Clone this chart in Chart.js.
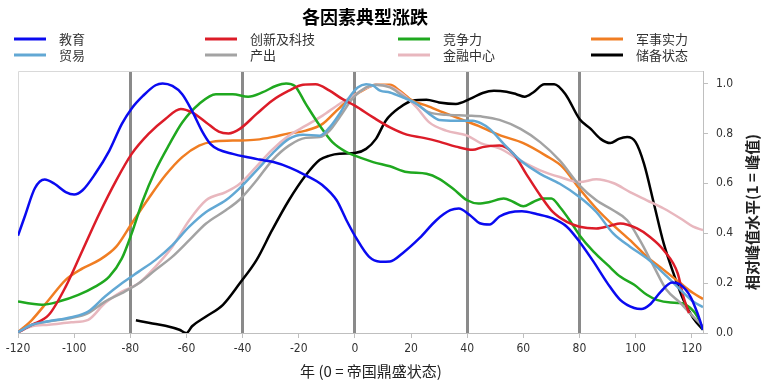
<!DOCTYPE html>
<html>
<head>
<meta charset="utf-8">
<script src="https://cdn.jsdelivr.net/npm/chart.js@4.4.0/dist/chart.umd.min.js"></script>
<style>
    html, body { margin: 0; padding: 0; background: #fff; }
    #wrap { width: 764px; height: 391px; }
</style>
</head>
<body>
<div id="wrap"><canvas id="chart"></canvas></div>
<script>
// tick labels
const xTicks = [-120, -100, -80, -60, -40, -20, 0, 20, 40, 60, 80, 100, 120];
const yTicks = [0, 0.2, 0.4, 0.6, 0.8, 1.0];
const markerYears = [-80, -40, 0, 40, 80];

// series, [year, relative level]
const education = [[-120,0.39],[-117.5,0.47],[-114,0.58],[-110.5,0.615],[-107,0.598],[-103,0.565],[-100,0.555],[-97,0.572],[-92.5,0.638],[-87.5,0.73],[-83,0.838],[-79.5,0.9],[-75.5,0.95],[-71,0.993],[-68.5,1.0],[-65,0.99],[-61.5,0.957],[-58,0.89],[-54.5,0.81],[-51.5,0.758],[-48.5,0.735],[-43.5,0.718],[-39,0.706],[-34,0.695],[-29,0.685],[-23,0.662],[-17.5,0.632],[-11.5,0.592],[-6.5,0.532],[-3,0.452],[0.5,0.38],[5,0.306],[9,0.286],[12.5,0.287],[17,0.32],[23,0.38],[29,0.452],[34,0.492],[37,0.499],[41,0.472],[44.5,0.44],[48,0.435],[51.5,0.467],[55,0.483],[59.5,0.488],[65,0.476],[70.5,0.459],[75.5,0.426],[80,0.366],[85,0.286],[90,0.199],[94.5,0.133],[99.5,0.1],[102,0.096],[105,0.113],[109,0.166],[113,0.202],[116,0.193],[119.5,0.146],[122,0.08],[124,0.013]];
const trade = [[-120,0.003],[-115,0.033],[-109,0.047],[-101,0.063],[-95,0.086],[-89,0.146],[-83,0.199],[-77,0.246],[-71,0.293],[-65,0.352],[-59,0.426],[-53,0.485],[-46,0.532],[-41,0.581],[-35,0.652],[-29.5,0.718],[-23.5,0.778],[-18.5,0.795],[-12.5,0.791],[-9,0.824],[-5.5,0.878],[-2,0.944],[1,0.984],[4,0.997],[6.5,0.991],[9,0.971],[12.5,0.964],[17,0.944],[22,0.918],[26.5,0.878],[30,0.854],[36,0.851],[42,0.851],[45,0.84],[48,0.818],[53,0.758],[59,0.691],[66,0.638],[73,0.598],[80,0.545],[86,0.485],[92,0.399],[98,0.346],[104,0.299],[110,0.239],[116,0.173],[120.5,0.126],[124,0.104]];
const innovation = [[-120,0.003],[-115,0.033],[-109,0.073],[-103,0.186],[-97,0.332],[-91,0.479],[-85,0.612],[-79.5,0.718],[-73.5,0.798],[-67.5,0.858],[-62,0.898],[-58,0.884],[-53,0.844],[-48.5,0.807],[-45,0.8],[-41,0.818],[-35,0.878],[-29.5,0.931],[-23.5,0.971],[-18.5,0.995],[-14,0.997],[-9,0.971],[-4.5,0.938],[0,0.911],[6.5,0.864],[12.5,0.824],[18.5,0.795],[24.5,0.782],[30,0.767],[36,0.747],[42,0.734],[45.5,0.745],[51.5,0.751],[56.5,0.718],[61,0.638],[66,0.552],[70.5,0.485],[75.5,0.445],[80,0.426],[86,0.419],[91,0.43],[94.5,0.439],[100.5,0.419],[105,0.386],[110,0.332],[115,0.239],[117,0.146],[119,0.08]];
const output = [[-120,0.003],[-115,0.033],[-109,0.047],[-101,0.06],[-95,0.08],[-89,0.126],[-83,0.16],[-77,0.199],[-71,0.253],[-65,0.306],[-59,0.372],[-53,0.439],[-46,0.492],[-41,0.535],[-35,0.612],[-29.5,0.691],[-23.5,0.751],[-17.5,0.782],[-12.5,0.785],[-9,0.811],[-5.5,0.864],[-0.5,0.944],[4,0.984],[7.5,0.995],[12.5,0.984],[17,0.951],[22,0.918],[26.5,0.884],[32.5,0.875],[40,0.871],[45.5,0.867],[51.5,0.854],[59,0.818],[66,0.765],[73,0.691],[80,0.592],[86,0.532],[92,0.492],[97,0.452],[101.5,0.372],[106.5,0.266],[111,0.173],[116,0.12],[120.5,0.066],[124,0.027]];
const competitiveness = [[-120,0.126],[-115,0.117],[-111.5,0.113],[-105.5,0.126],[-98.5,0.153],[-92.5,0.186],[-87.5,0.226],[-83,0.299],[-79.5,0.399],[-75.5,0.532],[-71,0.652],[-66,0.758],[-61.5,0.844],[-55.5,0.918],[-49.5,0.957],[-43.5,0.957],[-38,0.947],[-33,0.964],[-28,0.991],[-24.5,1.0],[-21.5,0.991],[-17.5,0.918],[-12.5,0.831],[-8,0.765],[-3,0.725],[0,0.711],[6.5,0.685],[12.5,0.668],[18.5,0.645],[25.5,0.638],[30,0.618],[35,0.578],[40,0.532],[44,0.519],[48,0.525],[53,0.539],[56.5,0.525],[60,0.508],[63.5,0.525],[67,0.539],[70,0.539],[73,0.505],[76.5,0.452],[80,0.392],[85,0.326],[90,0.273],[94.5,0.226],[99.5,0.193],[104,0.153],[107.5,0.133],[112.5,0.122],[116,0.12],[119.5,0.1],[122,0.066],[124,0.013]];
const finance = [[-120,0.003],[-115,0.027],[-109,0.033],[-101,0.043],[-95,0.053],[-89,0.12],[-83,0.166],[-77,0.199],[-71,0.266],[-65,0.346],[-59,0.452],[-53,0.532],[-46,0.565],[-41,0.598],[-35,0.668],[-29.5,0.734],[-23.5,0.791],[-17.5,0.831],[-11.5,0.871],[-5.5,0.918],[-0.5,0.951],[4,0.981],[7.5,0.995],[12.5,0.987],[17,0.957],[22,0.904],[26.5,0.844],[32.5,0.811],[40,0.791],[45,0.76],[51.5,0.74],[59,0.691],[66,0.652],[73,0.625],[80,0.605],[86,0.616],[92,0.601],[98,0.565],[104,0.532],[110,0.499],[116,0.459],[120.5,0.426],[124,0.412]];
const military = [[-120,0.003],[-115,0.053],[-109,0.133],[-103,0.213],[-97,0.259],[-91,0.293],[-85,0.346],[-79.5,0.439],[-73.5,0.539],[-67.5,0.632],[-61.5,0.705],[-55.5,0.751],[-50.5,0.767],[-43.5,0.771],[-35,0.775],[-29.5,0.785],[-23.5,0.8],[-17.5,0.811],[-11.5,0.838],[-6.5,0.891],[-2,0.938],[3,0.973],[7.5,0.995],[12.5,0.995],[16,0.971],[20.5,0.931],[25.5,0.911],[31.5,0.884],[37.5,0.858],[44,0.83],[49,0.805],[52,0.791],[60,0.761],[68,0.711],[74,0.665],[80,0.578],[86,0.499],[92,0.432],[98,0.372],[104,0.306],[110,0.253],[116,0.199],[120.5,0.16],[124,0.136]];
const reserve = [[-78,0.051],[-73,0.04],[-67.5,0.029],[-62.5,0.013],[-60,0.0],[-58,0.027],[-53,0.066],[-47,0.113],[-41,0.199],[-35,0.293],[-29.5,0.412],[-23.5,0.532],[-17.5,0.632],[-12.5,0.694],[-9,0.711],[-5.5,0.718],[0,0.721],[4,0.738],[7.5,0.778],[11,0.851],[16,0.904],[20.5,0.931],[25.5,0.935],[30,0.924],[36,0.918],[41,0.938],[45.5,0.962],[49.5,0.971],[54,0.967],[57.5,0.957],[60.5,0.947],[63.5,0.964],[67.5,0.997],[71,0.997],[75,0.957],[80,0.858],[84,0.818],[87.5,0.778],[91,0.761],[94,0.778],[97,0.785],[100,0.765],[103,0.678],[106.5,0.519],[110,0.359],[113.5,0.239],[117,0.133],[120.5,0.06],[124,0.013]];

const cjk = '"Noto Sans CJK SC", sans-serif';
const numFont = '"Liberation Sans Narrow", "DejaVu Sans Condensed", sans-serif';

const line = (label, pts, color) => ({
    label: label,
    data: pts.map(([x, y]) => ({ x: x, y: y })),
    borderColor: color,
    backgroundColor: color,
    borderWidth: 2.5,
    pointRadius: 0,
    cubicInterpolationMode: 'monotone',
    fill: false
});

// legend goes column by column, two rows
const decor = {
    id: 'decor',
    beforeDatasetsDraw(chart) {
        const { ctx, chartArea: a } = chart;
        ctx.save();
        ctx.strokeStyle = '#d9d9d9';
        ctx.lineWidth = 1;
        ctx.beginPath();
        ctx.moveTo(a.left + 0.5, a.bottom);
        ctx.lineTo(a.left + 0.5, a.top + 0.5);
        ctx.lineTo(a.right, a.top + 0.5);
        ctx.stroke();
        ctx.restore();
    },
    afterDraw(chart) {
        const ctx = chart.ctx;
        ctx.save();
        ctx.fillStyle = '#000';
        ctx.textAlign = 'center';
        ctx.textBaseline = 'middle';
        ctx.font = 'bold 18px ' + cjk;
        ctx.fillText('各因素典型涨跌', 365, 17);

        const colX = [14, 205, 398, 591];
        const rowY = [39, 55];
        ctx.font = '13px ' + cjk;
        ctx.textAlign = 'left';
        chart.data.datasets.forEach((ds, i) => {
            const x = colX[Math.floor(i / 2)];
            const y = rowY[i % 2];
            ctx.strokeStyle = ds.borderColor;
            ctx.lineWidth = 3;
            ctx.beginPath();
            ctx.moveTo(x, y);
            ctx.lineTo(x + 32, y);
            ctx.stroke();
            ctx.fillStyle = '#333';
            ctx.fillText(ds.label, x + 45, y);
        });

        ctx.fillStyle = '#222';
        ctx.textAlign = 'center';
        ctx.font = '15px ' + cjk;
        ctx.fillText('年 (0 = 帝国鼎盛状态)', 371, 371);

        ctx.translate(752, 212);
        ctx.rotate(-Math.PI / 2);
        ctx.font = 'bold 15px ' + cjk;
        ctx.fillText('相对峰值水平(1 = 峰值)', 0, 0);
        ctx.restore();
    }
};

new Chart(document.getElementById('chart'), {
    type: 'line',
    data: {
        datasets: [
            line('教育', education, '#0a0af0'),
            line('贸易', trade, '#62a8d4'),
            line('创新及科技', innovation, '#dc1c28'),
            line('产出', output, '#a3a3a3'),
            line('竞争力', competitiveness, '#1fa81f'),
            line('金融中心', finance, '#e8b7be'),
            line('军事实力', military, '#f07d22'),
            line('储备状态', reserve, '#000000')
        ]
    },
    plugins: [decor],
    options: {
        responsive: true,
        maintainAspectRatio: false,
        animation: false,
        layout: { padding: { left: 18, top: 71, right: 0, bottom: 0 } },
        plugins: {
            legend: { display: false },
            title: { display: false },
            tooltip: { enabled: false }
        },
        scales: {
            x: {
                type: 'linear',
                min: -120,
                max: 124,
                afterBuildTicks: s => { s.ticks = xTicks.map(v => ({ value: v })); },
                afterFit: s => { s.height = 58; },
                grid: {
                    color: c => markerYears.includes(c.tick && c.tick.value) ? '#8a8a8a' : 'transparent',
                    lineWidth: c => markerYears.includes(c.tick && c.tick.value) ? 3 : 1,
                    tickColor: '#bfbfbf',
                    tickWidth: 1,
                    tickLength: 5
                },
                border: { color: '#bfbfbf', width: 1 },
                ticks: {
                    autoSkip: false,
                    maxRotation: 0,
                    padding: 4,
                    color: '#333',
                    font: { family: numFont, size: 12 }
                }
            },
            y: {
                position: 'right',
                min: 0,
                max: 1.05,
                afterBuildTicks: s => { s.ticks = yTicks.map(v => ({ value: v })); },
                afterFit: s => { s.width = 61; },
                grid: {
                    drawOnChartArea: false,
                    color: '#bfbfbf',
                    tickLength: 5
                },
                border: { color: '#bfbfbf', width: 1 },
                ticks: {
                    padding: 8,
                    color: '#333',
                    font: { family: numFont, size: 12 },
                    callback: v => v.toFixed(1)
                }
            }
        }
    }
});
</script>
</body>
</html>
